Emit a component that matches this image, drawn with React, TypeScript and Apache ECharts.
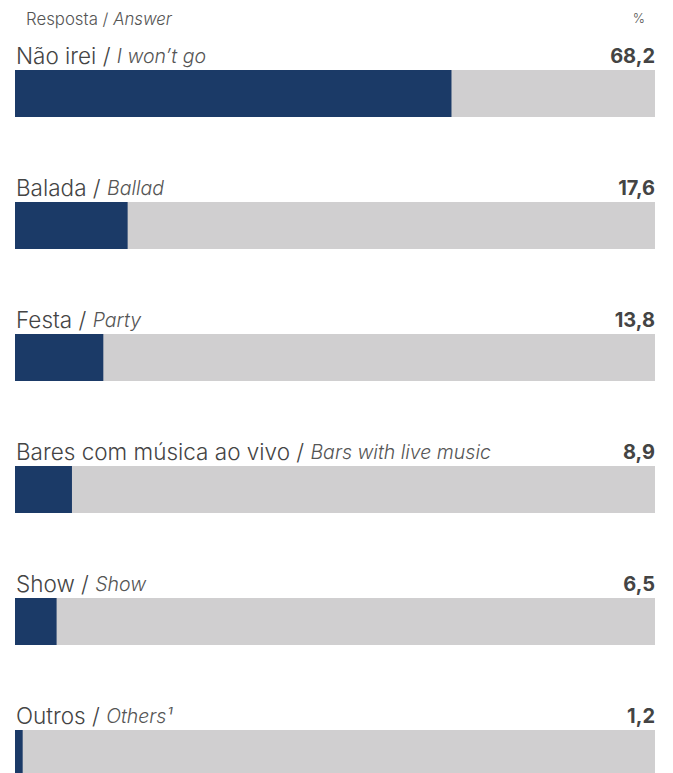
import React, { useEffect, useRef } from "react";
import * as echarts from "echarts";

const categoriesPt = ["Não irei", "Balada", "Festa", "Bares com música ao vivo", "Show", "Outros"];
const categoriesEn = ["I won’t go", "Ballad", "Party", "Bars with live music", "Show", "Others¹"];
const values = [68.2, 17.6, 13.8, 8.9, 6.5, 1.2];
const fullScale = [100, 100, 100, 100, 100, 100];

const FONT = "Inter, sans-serif";

export default function App() {
  const ref = useRef<HTMLDivElement>(null);
  useEffect(() => {
    const chart = echarts.init(ref.current!, null, { renderer: "svg" });
    chart.setOption({
      animation: false,
      backgroundColor: "#ffffff",
      grid: { left: 15, right: 18, top: 27.5, height: 792, containLabel: false },
      xAxis: { type: "value", min: 0, max: 100, show: false },
      yAxis: {
        type: "category",
        data: categoriesPt,
        inverse: true,
        show: false,
      },
      graphic: [
        {
          type: "text",
          left: 26,
          top: 10,
          style: {
            text: "{n|Resposta / }{i|Answer}",
            rich: {
              n: { fontFamily: FONT, fontSize: 16.8, fill: "#555", fontWeight: 300 },
              i: { fontFamily: FONT, fontSize: 16.8, fill: "#555", fontStyle: "italic", fontWeight: 300 },
            },
          },
        },
        {
          type: "text",
          right: 28,
          top: 11,
          style: { text: "%", fontFamily: FONT, fontSize: 13, fill: "#555", fontWeight: 300 },
        },
      ],
      series: [
        {
          type: "bar",
          data: fullScale,
          barWidth: 47,
          itemStyle: { color: "#d0cfd0" },
          z: 1,
          label: {
            show: true,
            position: [1, -3],
            align: "left",
            verticalAlign: "bottom",
            formatter: (p: any) =>
              `{n|${categoriesPt[p.dataIndex]} / }{i|${categoriesEn[p.dataIndex]}}`,
            rich: {
              n: { fontFamily: FONT, fontSize: 22.5, color: "#444", fontWeight: 300 },
              i: { fontFamily: FONT, fontSize: 19.5, color: "#555", fontStyle: "italic", fontWeight: 300 },
            },
          },
        },
        {
          type: "bar",
          data: values,
          barWidth: 47,
          barGap: "-100%",
          itemStyle: { color: "#1b3a67" },
          z: 2,
        },
        {
          type: "bar",
          data: fullScale,
          barWidth: 47,
          barGap: "-100%",
          itemStyle: { color: "rgba(0,0,0,0)" },
          z: 3,
          label: {
            show: true,
            position: ["100%", -4],
            align: "right",
            verticalAlign: "bottom",
            formatter: (p: any) => values[p.dataIndex].toFixed(1).replace(".", ","),
            fontFamily: FONT,
            fontSize: 20,
            fontWeight: "bold",
            color: "#444",
          },
        },
      ],
    });
    return () => chart.dispose();
  }, []);
  return (
    <div style={{ position: "fixed", left: 0, top: 0, width: 673, height: 773, overflow: "hidden" }}>
      <div ref={ref} style={{ width: 673, height: 840 }} />
    </div>
  );
}
